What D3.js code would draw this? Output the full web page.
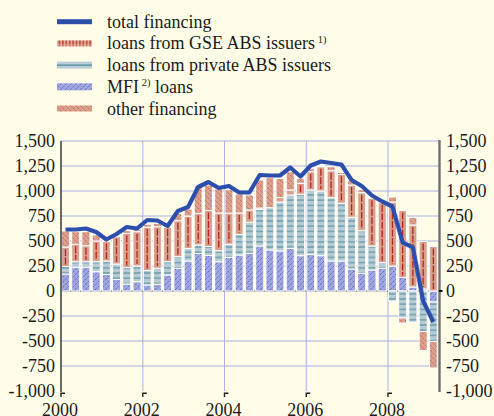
<!DOCTYPE html>
<html>
<head>
<meta charset="utf-8">
<script src="https://cdn.jsdelivr.net/npm/d3@7"></script>
<style>
  html, body { margin: 0; padding: 0; background: #fffde8; }
  svg { display: block; font-family: "Liberation Serif", "Times New Roman", serif; }
</style>
</head>
<body>
<svg id="chart" width="494" height="416"></svg>
<script>
// quarterly data, 2000Q1 - 2009Q1 (EUR billions, annualised flows)
const quarters = [
  '2000Q1', '2000Q2', '2000Q3', '2000Q4', '2001Q1', '2001Q2', '2001Q3', '2001Q4',
  '2002Q1', '2002Q2', '2002Q3', '2002Q4', '2003Q1', '2003Q2', '2003Q3', '2003Q4',
  '2004Q1', '2004Q2', '2004Q3', '2004Q4', '2005Q1', '2005Q2', '2005Q3', '2005Q4',
  '2006Q1', '2006Q2', '2006Q3', '2006Q4', '2007Q1', '2007Q2', '2007Q3', '2007Q4',
  '2008Q1', '2008Q2', '2008Q3', '2008Q4', '2009Q1'
]
const mfiLoans = [170, 237, 237, 193, 165, 115, 70, 93, 60, 67, 160, 227, 300, 375, 355, 293, 335, 360, 377, 450, 410, 400, 427, 353, 367, 353, 300, 300, 220, 177, 210, 227, 250, 135, 40, 20, -110]
const privateAbs = [75, 56, 56, 100, 135, 155, 165, 157, 145, 160, 133, 116, 125, 85, 90, 110, 133, 205, 310, 365, 423, 490, 533, 614, 643, 647, 633, 577, 517, 426, 240, 56, -100, -270, -310, -405, -395]
const gseAbs = [195, 174, 160, 207, 195, 273, 340, 343, 433, 416, 344, 360, 325, 315, 360, 377, 310, 215, 123, 15, 0, 45, 50, 110, 183, 243, 270, 290, 323, 380, 477, 600, 640, 670, 620, 475, 445]
const otherFin = [160, 126, 140, 60, 10, 0, 30, 25, 30, 34, 0, 74, 70, 280, 255, 240, 235, 190, 150, 280, 300, 190, 183, 50, 30, 10, 40, 20, 43, 30, 0, 0, 50, -50, 75, -190, -265]
const totalFin = [615, 615, 625, 590, 515, 570, 640, 625, 710, 705, 650, 800, 840, 1040, 1090, 1030, 1050, 985, 985, 1160, 1155, 1155, 1235, 1145, 1255, 1295, 1280, 1265, 1110, 1050, 955, 895, 845, 485, 436, -100, -310]

const yearTicks = [2000, 2002, 2004, 2006, 2008]
const yTicks = [-1000, -750, -500, -250, 0, 250, 500, 750, 1000, 1250, 1500]

const BG = '#fffde8'
const GRID = '#a9afe6'
const SALMON = '#d9a08e'
const FS = 18

const svg = d3.select('#chart')

const qStart = q => new Date(+q.slice(0, 4), (+q[5] - 1) * 3, 1)
const qEnd = q => new Date(+q.slice(0, 4), (+q[5]) * 3, 1)

const x = d3.scaleTime()
  .domain([new Date(2000, 0, 1), new Date(2009, 3, 1)])
  .range([61, 439])
const y = d3.scaleLinear().domain([-1000, 1500]).range([391, 141])

const fmt = d => d3.format(',')(d).replace('\u2212', '-')

svg.append('rect').attr('width', 494).attr('height', 416).attr('fill', BG)

// patterns
const defs = svg.append('defs')

const mfiPat = defs.append('pattern').attr('id', 'mfi')
  .attr('patternUnits', 'userSpaceOnUse').attr('width', 5).attr('height', 5)
mfiPat.append('rect').attr('width', 5).attr('height', 5).attr('fill', '#9fa5de')
mfiPat.append('path').attr('d', 'M0,5 L5,0 M-1,1 L1,-1 M4,6 L6,4')
  .attr('stroke', '#4e5cbc').attr('stroke-width', 0.7).attr('stroke-dasharray', '2.5,1')

const privPat = defs.append('pattern').attr('id', 'priv')
  .attr('patternUnits', 'userSpaceOnUse').attr('width', 6).attr('height', 5.2)
privPat.append('rect').attr('width', 6).attr('height', 5.2).attr('fill', '#b5ccd5')
privPat.append('path').attr('d', 'M0,2.6 H6')
  .attr('stroke', '#4f8898').attr('stroke-width', 1)

const otherPat = defs.append('pattern').attr('id', 'other')
  .attr('patternUnits', 'userSpaceOnUse').attr('width', 5).attr('height', 5)
otherPat.append('rect').attr('width', 5).attr('height', 5).attr('fill', SALMON)
otherPat.append('path').attr('d', 'M0,0 L5,5 M-1,4 L1,6 M4,-1 L6,1')
  .attr('stroke', '#bf5c48').attr('stroke-width', 0.7).attr('stroke-dasharray', '2.5,1')

const gseLeg = defs.append('pattern').attr('id', 'gseLeg')
  .attr('patternUnits', 'userSpaceOnUse').attr('width', 3.4).attr('height', 6)
gseLeg.append('rect').attr('width', 3.4).attr('height', 6).attr('fill', '#e3ab9a')
gseLeg.append('path').attr('d', 'M1.7,0 V2.6 M1.7,3.4 V6')
  .attr('stroke', '#b22a1e').attr('stroke-width', 1.2)

// grid
svg.append('g').selectAll('line')
  .data(yTicks.filter(v => v > -1000))
  .join('line')
  .attr('x1', 61).attr('x2', 439)
  .attr('y1', d => y(d)).attr('y2', d => y(d))
  .attr('stroke', GRID).attr('stroke-width', 1)

svg.append('g').selectAll('line')
  .data(yearTicks.slice(1))
  .join('line')
  .attr('x1', d => x(new Date(d, 0, 1))).attr('x2', d => x(new Date(d, 0, 1)))
  .attr('y1', 141).attr('y2', 391)
  .attr('stroke', GRID).attr('stroke-width', 1)

// stacked bars
const rows = quarters.map((q, i) => ({
  q, mfi: mfiLoans[i], priv: privateAbs[i], gse: gseAbs[i], other: otherFin[i]
}))
const keys = ['mfi', 'priv', 'gse', 'other']
const fills = { mfi: 'url(#mfi)', priv: 'url(#priv)', gse: SALMON, other: 'url(#other)' }

const stacked = d3.stack().keys(keys).offset(d3.stackOffsetDiverging)(rows)

const barX = q => x(qStart(q)) + 0.5
const barW = q => x(qEnd(q)) - x(qStart(q)) - 2.2

svg.append('line')
  .attr('x1', 61).attr('x2', 439).attr('y1', y(0)).attr('y2', y(0))
  .attr('stroke', '#666').attr('stroke-width', 0.8)

const layers = svg.append('g').selectAll('g')
  .data(stacked)
  .join('g')
  .attr('fill', d => fills[d.key])

layers.selectAll('rect')
  .data(d => d.filter(s => s[1] !== s[0]))
  .join('rect')
  .attr('x', d => barX(d.data.q))
  .attr('width', d => barW(d.data.q))
  .attr('y', d => y(Math.max(d[0], d[1])))
  .attr('height', d => Math.abs(y(d[0]) - y(d[1])))
  .attr('stroke', '#ffffff')
  .attr('stroke-width', 1)

// red centre line of GSE segments
const gseLayer = stacked.find(s => s.key === 'gse')
svg.append('g').selectAll('line')
  .data(gseLayer.filter(s => Math.abs(y(s[0]) - y(s[1])) > 5))
  .join('line')
  .attr('x1', d => barX(d.data.q) + barW(d.data.q) / 2)
  .attr('x2', d => barX(d.data.q) + barW(d.data.q) / 2)
  .attr('y1', d => y(Math.max(d[0], d[1])) + 2)
  .attr('y2', d => y(Math.min(d[0], d[1])) - 2)
  .attr('stroke', '#b0281c')
  .attr('stroke-width', 1.3)
  .attr('stroke-dasharray', '7,1.5')

// total financing line
const line = d3.line()
  .x((d, i) => barX(quarters[i]) + barW(quarters[i]) / 2)
  .y(d => y(d))
svg.append('path')
  .datum(totalFin)
  .attr('d', line)
  .attr('fill', 'none')
  .attr('stroke', '#2c4fae')
  .attr('stroke-width', 4.2)
  .attr('stroke-linejoin', 'round')

// axes
svg.append('line').attr('x1', 61).attr('x2', 61).attr('y1', 141).attr('y2', 392)
  .attr('stroke', '#444').attr('stroke-width', 1.6)
svg.append('line').attr('x1', 439.5).attr('x2', 439.5).attr('y1', 140).attr('y2', 392)
  .attr('stroke', '#707070').attr('stroke-width', 2.4)
svg.append('line').attr('x1', 439).attr('x2', 442.5).attr('y1', y(0)).attr('y2', y(0))
  .attr('stroke', '#111').attr('stroke-width', 2)

const styleAxis = g => {
  g.select('.domain').remove()
  g.selectAll('text').attr('font-size', FS).attr('fill', '#1a1a1a')
    .attr('font-family', '"Liberation Serif", "Times New Roman", serif')
}

svg.append('g').attr('transform', 'translate(61,0)')
  .call(d3.axisLeft(y).tickValues(yTicks).tickSize(0).tickPadding(6).tickFormat(fmt))
  .call(styleAxis)

svg.append('g').attr('transform', 'translate(439,0)')
  .call(d3.axisRight(y).tickValues(yTicks).tickSize(0).tickPadding(7).tickFormat(fmt))
  .call(styleAxis)

svg.append('g').attr('transform', 'translate(0,391)')
  .call(d3.axisBottom(x).tickValues(yearTicks.map(d => new Date(d, 0, 1)))
    .tickSize(0).tickPadding(12).tickFormat(d3.timeFormat('%Y')))
  .call(styleAxis)
  .call(g => g.selectAll('text').attr('dx', -1.5))

svg.append('g').selectAll('path')
  .data(yearTicks)
  .join('path')
  .attr('d', d => {
    const px = x(new Date(d, 0, 1))
    return `M${px},397 V393.3 H${px + 4}`
  })
  .attr('fill', 'none').attr('stroke', '#222').attr('stroke-width', 1.4)

// legend
const legendItems = [
  { key: 'total', parts: [['total financing']] },
  { key: 'gse', parts: [['loans from GSE ABS issuers'], [' 1)', true]] },
  { key: 'priv', parts: [['loans from private ABS issuers']] },
  { key: 'mfi', parts: [['MFI'], [' 2)', true], [' loans']] },
  { key: 'other', parts: [['other financing']] }
]

const legend = svg.append('g')
legendItems.forEach((item, i) => {
  const cy = 21.7 + i * 21.7
  const g = legend.append('g')
  if (item.key === 'total') {
    g.append('rect').attr('x', 57).attr('y', cy - 2.5).attr('width', 35).attr('height', 5)
      .attr('fill', '#2c4fae')
  } else if (item.key === 'gse') {
    g.append('rect').attr('x', 57).attr('y', cy - 3).attr('width', 35).attr('height', 6)
      .attr('fill', 'url(#gseLeg)')
  } else if (item.key === 'priv') {
    g.append('rect').attr('x', 57).attr('y', cy - 3.5).attr('width', 35).attr('height', 7)
      .attr('fill', '#b8cdd7')
    g.append('line').attr('x1', 57).attr('x2', 92).attr('y1', cy).attr('y2', cy)
      .attr('stroke', '#4f8898').attr('stroke-width', 1.3)
  } else if (item.key === 'mfi') {
    g.append('rect').attr('x', 57).attr('y', cy - 3.5).attr('width', 35).attr('height', 7)
      .attr('fill', 'url(#mfi)')
  } else {
    g.append('rect').attr('x', 57).attr('y', cy - 3).attr('width', 35).attr('height', 6)
      .attr('fill', 'url(#other)')
  }
  const t = g.append('text').attr('x', 107).attr('y', cy + 6)
    .attr('font-size', FS).attr('fill', '#1a1a1a')
  let raised = false
  item.parts.forEach(([s, sup]) => {
    const ts = t.append('tspan').text(s)
    if (sup) {
      ts.attr('font-size', 10.5).attr('dy', -6.5)
      raised = true
    } else if (raised) {
      ts.attr('dy', 6.5)
      raised = false
    }
  })
})
</script>
</body>
</html>
